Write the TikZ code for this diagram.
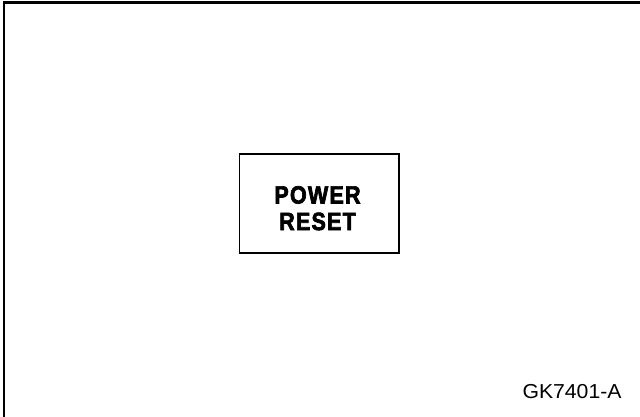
\documentclass[tikz,border=0pt]{standalone}
\usepackage{fontspec}
\setmainfont{Liberation Sans}
\newfontface\panelfont{Liberation Sans Bold}[FakeBold=2.6, FakeStretch=0.86, LetterSpace=5]
\newfontface\captionfont{Liberation Sans}[FakeStretch=1.05]
\usetikzlibrary{positioning}

\begin{document}
\begin{tikzpicture}[
    x=1pt, y=-1pt,
    frameline/.style={draw, line width=2.2pt, line cap=rect},
    panel/.style={draw, line width=1.4pt, minimum width=159.5pt,
                  minimum height=99pt, inner sep=0pt},
    paneltext/.style={font=\fontsize{25}{26.5}\panelfont,
                      align=center, inner sep=0pt},
    caption/.style={font=\fontsize{20.2}{24}\captionfont, inner sep=0pt}
  ]
    \useasboundingbox (0,0) rectangle (640,417);

    % outer frame, only top and left edges show
    \coordinate (frameTL) at (3.6, 2.6);
    \coordinate (frameTR) at (640, 2.6);
    \coordinate (frameBL) at (3.6, 417);
    \draw[frameline] (frameTR) -- (frameTL) -- (frameBL);

    \node[panel] (reset) at (319.25, 203.5) {};
    \node[paneltext] (resettext) at (317.5, 208.2) {POWER\\RESET};

    \node[caption, anchor=base west] (figid) at (522.3, 398.3) {GK7401-A};
  \end{tikzpicture}
\end{document}
